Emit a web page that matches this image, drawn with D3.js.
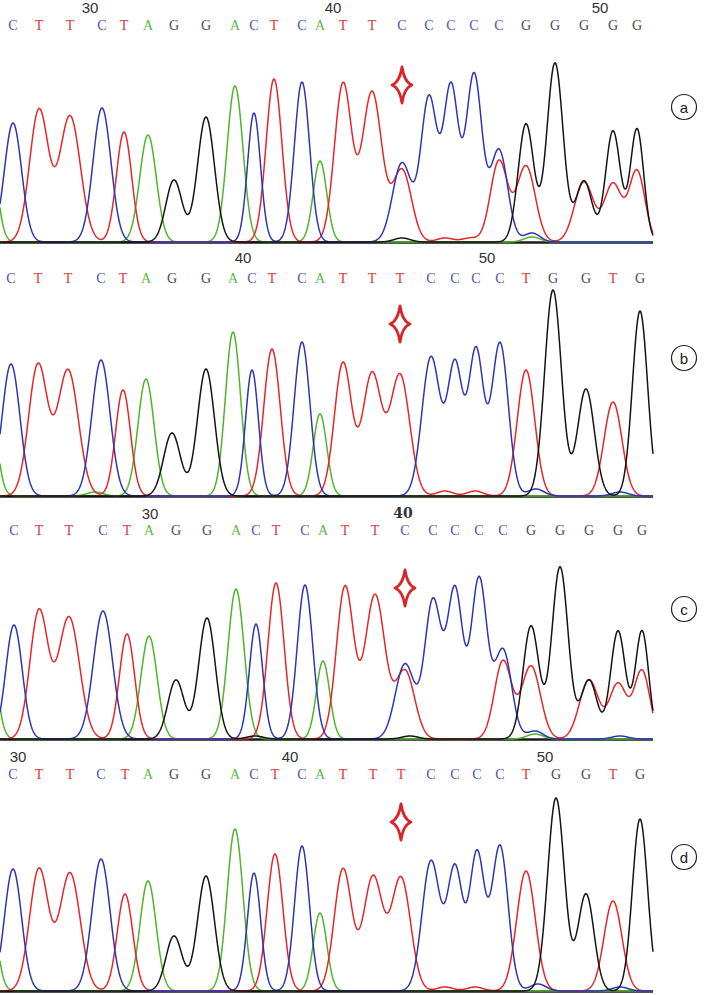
<!DOCTYPE html>
<html>
<head>
<meta charset="utf-8">
<script src="https://cdn.jsdelivr.net/npm/d3@7"></script>
<style>
  body { margin: 0; background: #fff; }
  svg { display: block; }
</style>
</head>
<body>
<svg id="chart" width="709" height="995"></svg>
<script>
// ---- Data (scan position of each called base, peak height in signal units) ----

const seqA = 'CTTCTAGGACTCATTCCCCCGGGGG';
const scanA = [13, 39, 70, 102, 124, 148, 174, 206, 235, 254, 274, 302, 320, 343, 372, 402, 429, 451, 474, 499, 526, 555, 584, 613, 637];
const peakA = [119, 132, 126, 134, 110, 107, 62, 125, 156, 129, 163, 160, 81, 158, 150, 79, 144, 154, 167, 92, 118, 179, 61, 111, 113];
const subA = [[15, 'T', 72], [19, 'T', 81], [20, 'T', 76], [22, 'T', 60], [23, 'T', 58], [24, 'T', 71]];
const minorA = [['A', -14, 160], ['C', 532, 9], ['A', 532, 5], ['G', 402, 4], ['T', 445, 4], ['T', 470, 4]];
const tickLabA = ['30', '40', '50'];
const tickScanA = [90, 333, 600];

const seqB = 'CTTCTAGGACTCATTTCCCCTGGTG';
const scanB = [11, 38, 68, 101, 123, 146, 172, 206, 233, 252, 272, 302, 320, 343, 372, 400, 431, 455, 476, 500, 526, 553, 586, 613, 640];
const peakB = [132, 131, 126, 136, 106, 117, 63, 127, 164, 126, 147, 154, 82, 133, 122, 121, 139, 130, 145, 153, 126, 206, 107, 94, 185];
const subB = [];
const minorB = [['A', -14, 150], ['C', 536, 7], ['T', 445, 5], ['T', 475, 5], ['A', 95, 4], ['C', 620, 4]];
const tickLabB = ['40', '50'];
const tickScanB = [243, 487];

const seqC = 'CTTCTAGGACTCATTCCCCCGGGGG';
const scanC = [14, 39, 69, 103, 127, 149, 176, 207, 236, 256, 276, 305, 323, 345, 375, 405, 433, 455, 479, 503, 531, 560, 589, 618, 642];
const peakC = [114, 128, 122, 128, 105, 103, 59, 121, 150, 115, 156, 154, 78, 152, 144, 75, 138, 148, 160, 89, 113, 172, 59, 108, 108];
const subC = [[15, 'T', 68], [19, 'T', 78], [20, 'T', 73], [22, 'T', 59], [23, 'T', 55], [24, 'T', 68]];
const minorC = [['A', -14, 150], ['C', 535, 8], ['A', 535, 5], ['G', 255, 3], ['G', 410, 3], ['C', 620, 3]];
const tickLabC = ['30', '40'];
const tickScanC = [150, 403];

const seqD = 'CTTCTAGGACTCATTTCCCCTGGTG';
const scanD = [13, 39, 70, 101, 125, 148, 174, 206, 235, 254, 275, 302, 320, 343, 373, 401, 431, 455, 477, 500, 526, 556, 586, 613, 640];
const peakD = [122, 122, 118, 132, 97, 110, 55, 115, 162, 118, 137, 145, 78, 122, 114, 113, 130, 122, 137, 145, 120, 193, 97, 90, 172];
const subD = [];
const minorD = [['A', -14, 140], ['C', 538, 7], ['T', 445, 4], ['T', 475, 4], ['C', 620, 4]];
const tickLabD = ['30', '40', '50'];
const tickScanD = [18, 290, 545];

// ---- Styling / layout ----

const traceColor = { A: '#4fb52b', C: '#2d36b3', G: '#141414', T: '#e6262a' };
const letterColor = { A: '#5cb83f', C: '#4a55b5', G: '#4a4a4a', T: '#e23a3a' };
// relative peak width per dye channel
const widthFactor = { A: 0.33, C: 0.33, G: 0.28, T: 0.33 };

const panels = [
  { seq: seqA, scan: scanA, peak: peakA, sub: subA, minor: minorA, tickLab: tickLabA, tickScan: tickScanA,
    base: 242, letterY: 25, tickY: 7, starY: 85, label: 'a', labelY: 107 },
  { seq: seqB, scan: scanB, peak: peakB, sub: subB, minor: minorB, tickLab: tickLabB, tickScan: tickScanB,
    base: 496, letterY: 278, tickY: 257, starY: 324, label: 'b', labelY: 358 },
  { seq: seqC, scan: scanC, peak: peakC, sub: subC, minor: minorC, tickLab: tickLabC, tickScan: tickScanC,
    base: 739, letterY: 530, tickY: 513, starY: 588, label: 'c', labelY: 609, boldTick: '40' },
  { seq: seqD, scan: scanD, peak: peakD, sub: subD, minor: minorD, tickLab: tickLabD, tickScan: tickScanD,
    base: 991, letterY: 774, tickY: 756, starY: 822, label: 'd', labelY: 857 },
];

const svg = d3.select('#chart');
const plotRight = 653;

const x = d3.scaleLinear().domain([0, 653]).range([0, plotRight]);

// peak width follows local base spacing
function sigmaAt(scan, i, b) {
  const n = scan.length;
  const left = i > 0 ? scan[i] - scan[i - 1] : scan[i + 1] - scan[i];
  const right = i < n - 1 ? scan[i + 1] - scan[i] : left;
  return widthFactor[b] * (left + right) / 2;
}

function starPath(cx, cy) {
  const w = 10, h = 18, k = 2.5;
  return `M${cx},${cy - h} Q${cx + k},${cy - k} ${cx + w},${cy} Q${cx + k},${cy + k} ${cx},${cy + h}`
    + ` Q${cx - k},${cy + k} ${cx - w},${cy} Q${cx - k},${cy - k} ${cx},${cy - h}Z`;
}

panels.forEach((p) => {
  const g = svg.append('g').attr('class', 'panel');
  const y = d3.scaleLinear().domain([0, 220]).range([p.base, p.base - 220]);

  // collect peaks per channel
  const peaks = { A: [], C: [], G: [], T: [] };
  p.seq.split('').forEach((b, i) => {
    peaks[b].push({ mu: p.scan[i], h: p.peak[i], s: sigmaAt(p.scan, i, b) });
  });
  p.sub.forEach(([i, b, h]) => peaks[b].push({ mu: p.scan[i], h, s: sigmaAt(p.scan, i, b) }));
  p.minor.forEach(([b, mu, h]) => peaks[b].push({ mu, h, s: 8 }));

  // baseline
  g.append('line')
    .attr('x1', x(0)).attr('x2', x(653))
    .attr('y1', y(0) + 0.5).attr('y2', y(0) + 0.5)
    .attr('stroke', '#1a1a1a')
    .attr('stroke-width', 2.5);

  // traces
  const xs = d3.range(0, 653.01, 0.5);
  const line = d3.line().x((d) => x(d[0])).y((d) => y(d[1]));
  ['A', 'T', 'C', 'G'].forEach((b) => {
    const pts = xs.map((v) => [v, d3.sum(peaks[b], (k) => k.h * Math.exp(-((v - k.mu) ** 2) / (2 * k.s * k.s)))]);
    g.append('path')
      .attr('d', line(pts))
      .attr('fill', 'none')
      .attr('stroke', traceColor[b])
      .attr('stroke-width', 1.5)
      .attr('stroke-linejoin', 'round');
  });

  // base calls
  g.selectAll('.call')
    .data(p.seq.split(''))
    .enter()
    .append('text')
    .attr('class', 'call')
    .attr('x', (d, i) => x(p.scan[i]))
    .attr('y', p.letterY)
    .attr('dominant-baseline', 'central')
    .attr('text-anchor', 'middle')
    .style('font', '14px "Liberation Serif", "DejaVu Serif", serif')
    .style('fill', (d) => letterColor[d])
    .text((d) => d);

  // position ticks
  g.selectAll('.tick-label')
    .data(p.tickLab)
    .enter()
    .append('text')
    .attr('class', 'tick-label')
    .attr('x', (d, i) => x(p.tickScan[i]))
    .attr('y', p.tickY)
    .attr('dominant-baseline', 'central')
    .attr('text-anchor', 'middle')
    .style('font', (d) => (d === p.boldTick
      ? 'bold 14px "DejaVu Serif", serif'
      : '15px "Liberation Sans", Arial, sans-serif'))
    .style('fill', '#333')
    .text((d) => d);

  // mutation marker
  g.append('path')
    .attr('d', starPath(x(p.scan[15]), p.starY))
    .attr('fill', '#fff')
    .attr('stroke', '#d9252a')
    .attr('stroke-width', 2.8)
    .attr('stroke-linejoin', 'round');

  // panel label
  g.append('circle')
    .attr('cx', 684).attr('cy', p.labelY).attr('r', 12.5)
    .attr('fill', '#fff').attr('stroke', '#222').attr('stroke-width', 1.2);
  g.append('text')
    .attr('x', 684).attr('y', p.labelY)
    .attr('dominant-baseline', 'central')
    .attr('text-anchor', 'middle')
    .style('font', '15px "Liberation Sans", Arial, sans-serif')
    .style('fill', '#222')
    .text(p.label);
});
</script>
</body>
</html>
